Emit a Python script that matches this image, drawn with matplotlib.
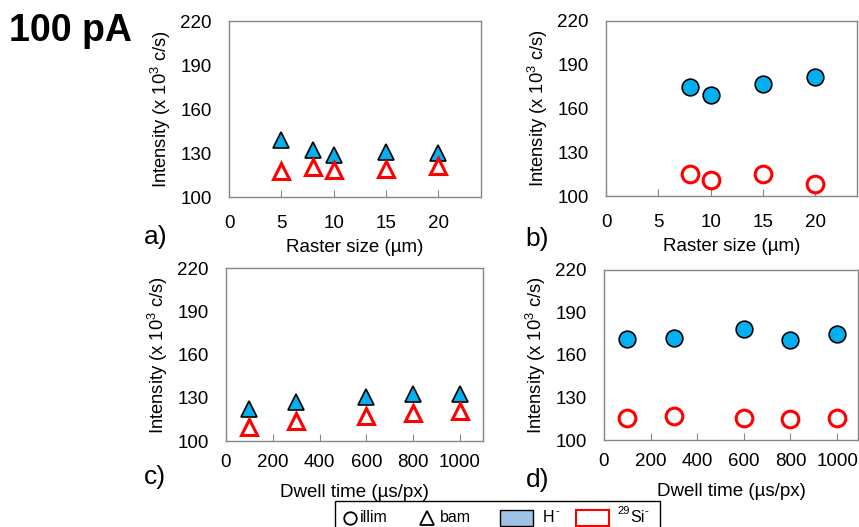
import matplotlib
matplotlib.use('Agg')
import matplotlib.pyplot as plt
from matplotlib.lines import Line2D
from matplotlib.patches import Rectangle

plt.rcParams['font.family'] = ['Liberation Sans', 'DejaVu Sans']
plt.rcParams['mathtext.fontset'] = 'custom'
plt.rcParams['mathtext.rm'] = 'Liberation Sans'
plt.rcParams['mathtext.it'] = 'Liberation Sans:italic'

# raster size panels
raster_bam = [5, 8, 10, 15, 20]
h_bam_raster = [138.6, 131.8, 129.0, 130.5, 130.0]
si_bam_raster = [117.7, 120.5, 118.7, 119.3, 121.0]

raster_illim = [8, 10, 15, 20]
h_illim_raster = [174.6, 168.9, 176.8, 181.2]
si_illim_raster = [115.0, 111.0, 115.0, 108.2]

# dwell time panels
dwell = [100, 300, 600, 800, 1000]
h_bam_dwell = [122.0, 127.3, 130.8, 133.0, 132.4]
si_bam_dwell = [109.8, 114.0, 117.3, 119.8, 121.2]
h_illim_dwell = [171.5, 172.2, 178.3, 170.8, 175.0]
si_illim_dwell = [115.3, 116.9, 115.5, 114.8, 115.3]

yticks = [100, 130, 160, 190, 220]
raster_ticks = [0, 5, 10, 15, 20]
dwell_ticks = [0, 200, 400, 600, 800, 1000]

blue = '#00B0F0'
red = '#FF0000'
grey = '#868686'

fig = plt.figure(figsize=(8.59, 5.27), dpi=100)

positions = {
    'a': [0.2666, 0.626, 0.2934, 0.334],
    'b': [0.7055, 0.628, 0.2925, 0.333],
    'c': [0.2630, 0.163, 0.2992, 0.328],
    'd': [0.7030, 0.165, 0.2960, 0.323],
}


def style(ax, xlim, xticks, xlabel, xpad, lpad):
    ax.set_xlim(*xlim)
    ax.set_ylim(100, 220)
    ax.set_yticks(yticks)
    ax.set_xticks(xticks)
    for s in ax.spines.values():
        s.set_color(grey)
        s.set_linewidth(1.0)
    ax.tick_params(axis='x', direction='in', length=5, color=grey, pad=xpad, labelsize=13.5)
    ax.tick_params(axis='y', left=False, pad=9, labelsize=13.5)
    ax.set_xlabel(xlabel, fontsize=13.5, labelpad=lpad)
    ax.set_ylabel('Intensity (x 10$^{3}$ c/s)', fontsize=13.2, labelpad=5)


ms = 12
mew = 1.2

ax_a = fig.add_axes(positions['a'])
ax_a.plot(raster_bam, h_bam_raster, '^', ms=ms, mfc=blue, mec='black', mew=mew, ls='none')
ax_a.plot(raster_bam, si_bam_raster, '^', ms=ms, mfc='white', mec=red, mew=2.2, ls='none')
style(ax_a, (0, 24.1), raster_ticks, 'Raster size (µm)', 13, 5)

ax_b = fig.add_axes(positions['b'])
ax_b.plot(raster_illim, h_illim_raster, 'o', ms=ms, mfc=blue, mec='black', mew=mew, ls='none')
ax_b.plot(raster_illim, si_illim_raster, 'o', ms=ms, mfc='white', mec=red, mew=2.2, ls='none')
style(ax_b, (0, 24.0), raster_ticks, 'Raster size (µm)', 13, 5)

ax_c = fig.add_axes(positions['c'])
ax_c.plot(dwell, h_bam_dwell, '^', ms=ms, mfc=blue, mec='black', mew=mew, ls='none')
ax_c.plot(dwell, si_bam_dwell, '^', ms=ms, mfc='white', mec=red, mew=2.2, ls='none')
style(ax_c, (0, 1098), dwell_ticks, 'Dwell time (µs/px)', 9, 10)

ax_d = fig.add_axes(positions['d'])
ax_d.plot(dwell, h_illim_dwell, 'o', ms=ms, mfc=blue, mec='black', mew=mew, ls='none')
ax_d.plot(dwell, si_illim_dwell, 'o', ms=ms, mfc='white', mec=red, mew=2.2, ls='none')
style(ax_d, (0, 1090), dwell_ticks, 'Dwell time (µs/px)', 9, 10)

# panel letters
fig.text(0.167, 0.550, 'a)', fontsize=19, ha='left', va='center')
fig.text(0.612, 0.547, 'b)', fontsize=19, ha='left', va='center')
fig.text(0.167, 0.095, 'c)', fontsize=19, ha='left', va='center')
fig.text(0.612, 0.090, 'd)', fontsize=19, ha='left', va='center')

fig.text(0.010, 0.942, '100 pA', fontsize=27, fontweight='bold', ha='left', va='center')

# legend box at bottom
fig.add_artist(Rectangle((0.390, -0.01), 0.378, 0.060, transform=fig.transFigure,
                         fill=False, edgecolor='black', lw=1.0))
ly = 0.018
fig.add_artist(Line2D([0.4075], [ly], marker='o', ms=9, mfc='none', mec='black', mew=1.3,
                      transform=fig.transFigure))
fig.text(0.419, ly, 'illim', fontsize=11.5, va='center', ha='left')
fig.add_artist(Line2D([0.4975], [ly], marker='^', ms=10, mfc='none', mec='black', mew=1.3,
                      transform=fig.transFigure))
fig.text(0.512, ly, 'bam', fontsize=11.5, va='center', ha='left')
fig.add_artist(Rectangle((0.582, ly - 0.016), 0.039, 0.031, transform=fig.transFigure,
                         facecolor='#9DC3E6', edgecolor='black', lw=1.0))
fig.text(0.632, ly, 'H', fontsize=11.5, va='center', ha='left')
fig.text(0.6465, ly + 0.012, '-', fontsize=8, va='center', ha='left')
fig.add_artist(Rectangle((0.670, ly - 0.016), 0.039, 0.031, transform=fig.transFigure,
                         facecolor='white', edgecolor=red, lw=1.5))
fig.text(0.719, ly + 0.012, '29', fontsize=8, va='center', ha='left')
fig.text(0.734, ly, 'Si', fontsize=11.5, va='center', ha='left')
fig.text(0.7505, ly + 0.012, '-', fontsize=8, va='center', ha='left')

fig.savefig('out.png', dpi=100)
